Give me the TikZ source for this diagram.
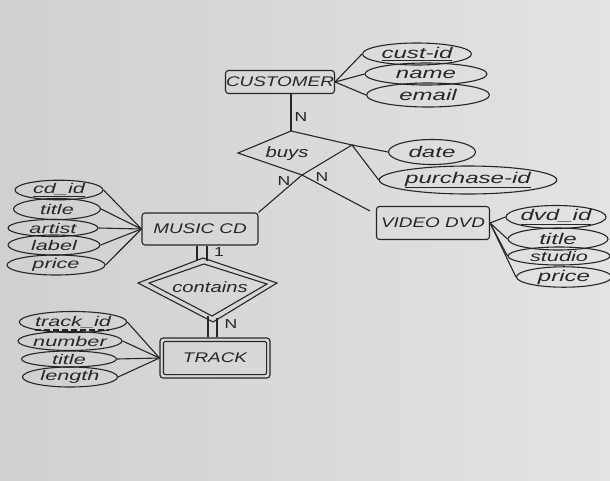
\documentclass[tikz,border=0pt]{standalone}
\usepackage{fontspec}
\setmainfont{Liberation Sans}
\newfontfamily\hand[FakeStretch=1.35]{Liberation Sans}
\newfontfamily\handw[FakeStretch=1.55]{Liberation Sans}
\usetikzlibrary{shapes.geometric,calc}
\definecolor{paperL}{HTML}{D0D0D0}
\definecolor{paperR}{HTML}{E3E3E3}
\definecolor{ink}{HTML}{262626}
\begin{document}
\begin{tikzpicture}[x=1pt,y=-1pt,line width=1.1pt,color=ink,
  ent/.style={draw,rounded corners=3pt,inner sep=0pt,font=\hand\itshape\fontsize{14}{15}\selectfont},
  attr/.style={draw,ellipse,inner sep=0pt,font=\handw\itshape\fontsize{15.5}{16}\selectfont},
  sattr/.style={attr,font=\handw\itshape\fontsize{14}{14}\selectfont},
  card/.style={inner sep=0pt,font=\hand\fontsize{13}{14}\selectfont},
  rel/.style={inner sep=0pt,font=\hand\itshape\fontsize{15}{16}\selectfont}]
\shade[left color=paperL,right color=paperR] (0,0) rectangle (610,480);
\useasboundingbox (0,0) rectangle (610,480);

% CUSTOMER
\node[ent,minimum width=109pt,minimum height=23pt] (cust) at (280,82) {CUSTOMER};
\node[attr,minimum width=109pt,minimum height=22pt] (cid) at (417,54) {\underline{cust-id}};
\node[attr,minimum width=122pt,minimum height=22pt] (cnm) at (426,74) {name};
\node[attr,minimum width=123pt,minimum height=24pt] (cem) at (428,95) {email};
\foreach \a in {cid,cnm,cem} \draw (cust.east) -- (\a.west);

% buys
\coordinate (bL) at (238,153);
\coordinate (bT) at (291,131);
\coordinate (bR) at (352,145);
\coordinate (bB) at (302,175);
\draw (bL) -- (bT) -- (bR) -- (bB) -- cycle;
\node[rel] (buys) at (287,154) {buys};
\node[attr,minimum width=87pt,minimum height=25pt] (date) at (432,152) {date};
\node[attr,minimum width=157pt,minimum height=28pt] (pid) at (468,180) {\underline{purchase-id}};
\draw (bR) -- (date.west);
\draw (bR) -- (pid.west);
\draw (bT |- cust.south) -- (bT);
\node[card] (n1) at (301,117) {N};

% VIDEO DVD
\node[ent,minimum width=113pt,minimum height=33pt] (vdvd) at (433,223) {VIDEO DVD};
\node[attr,minimum width=93pt,minimum height=23pt] (vid) at (556,217) {\underline{dvd\_id}};
\node[attr,minimum width=100pt,minimum height=22pt] (vti) at (558,239) {title};
\node[sattr,minimum width=102pt,minimum height=18pt] (vst) at (559,256) {studio};
\node[attr,minimum width=95pt,minimum height=20pt] (vpr) at (564,277) {price};
\foreach \a in {vid,vti,vst,vpr} \draw (vdvd.east) -- (\a.west);

% MUSIC CD
\node[ent,minimum width=116pt,minimum height=32pt] (mcd) at (200,229) {MUSIC CD};
\node[sattr,minimum width=88pt,minimum height=17pt] (mid) at (59,190) {\underline{cd\_id}};
\node[sattr,minimum width=87pt,minimum height=21pt] (mti) at (57,209) {title};
\node[sattr,minimum width=90pt,minimum height=17pt] (mar) at (53,228) {artist};
\node[sattr,minimum width=92pt,minimum height=20pt] (mla) at (54,245) {label};
\node[sattr,minimum width=98pt,minimum height=20pt] (mpr) at (56,265) {price};
\foreach \a in {mid,mti,mar,mla,mpr} \draw (mcd.west) -- (\a.east);

\draw (bB) -- (mcd.north east);
\draw (bB) -- ($(vdvd.north west)+(-6,5)$);
\node[card] (n2) at (284,181) {N};
\node[card] (n3) at (322,177) {N};

% contains
\coordinate (cL) at (138,283);
\coordinate (cT) at (203,258);
\coordinate (cR) at (277,283);
\coordinate (cB) at (213,322);
\coordinate (iL) at (149,283);
\coordinate (iT) at (204,264);
\coordinate (iR) at (267,284);
\coordinate (iB) at (212,316);
\draw (cL) -- (cT) -- (cR) -- (cB) -- cycle;
\draw (iL) -- (iT) -- (iR) -- (iB) -- cycle;
\node[rel] (cont) at (210,287) {contains};
\draw ([xshift=-3pt]mcd.south) -- ++(0,14);
\draw ([xshift=7pt]mcd.south) -- ++(0,15);
\node[card] (n4) at (219,252) {1};

% TRACK
\node[ent,minimum width=110pt,minimum height=40pt] (trk) at (215,358) {TRACK};
\draw[rounded corners=2pt] ([shift={(4,4)}]trk.north west) rectangle ([shift={(-4,-4)}]trk.south east);
\draw ([xshift=-7pt]trk.north) -- ++(0,-21);
\draw ([xshift=2pt]trk.north) -- ++(0,-19);
\node[card] (n5) at (231,324) {N};
\node[sattr,minimum width=100pt,minimum height=21pt] (tid) at (73,322) {track\_id};
\draw[dash pattern=on 6pt off 3pt] ($(tid.center)+(-38,8)$) -- ($(tid.center)+(36,8)$);
\node[sattr,minimum width=104pt,minimum height=19pt] (tnu) at (70,341) {number};
\node[sattr,minimum width=95pt,minimum height=16pt] (tti) at (69,359) {title};
\node[sattr,minimum width=95pt,minimum height=20pt] (tle) at (70,377) {length};
\foreach \a in {tid,tnu,tti,tle} \draw (trk.west) -- (\a.east);
\end{tikzpicture}
\end{document}
